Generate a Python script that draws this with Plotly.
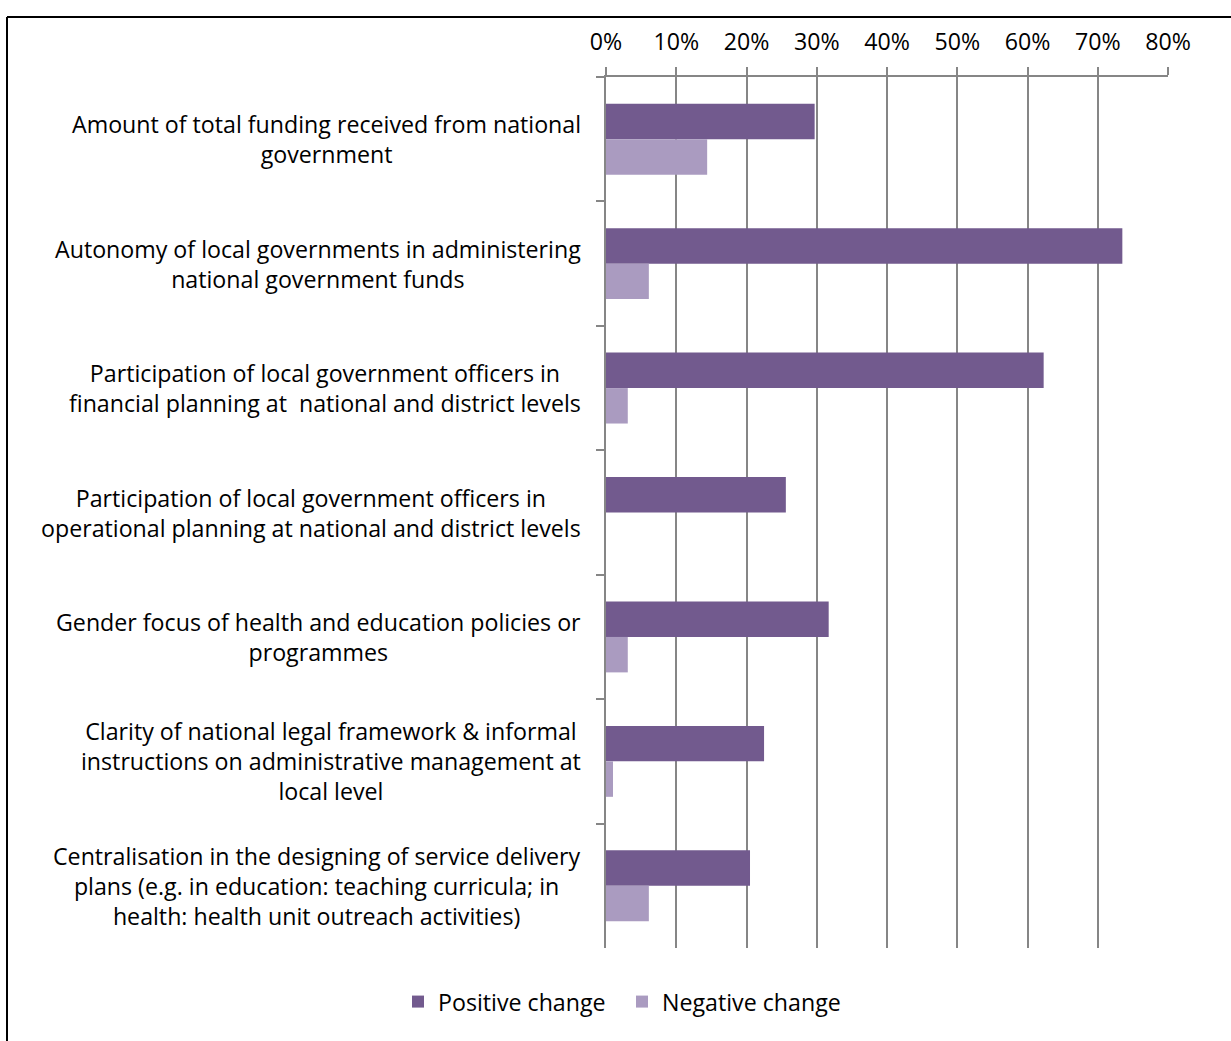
import plotly.graph_objects as go

categories = [
    "Amount of total funding received from national<br>government",
    "Autonomy of local governments in administering<br>national government funds",
    "Participation of local government officers in<br>financial planning at  national and district levels",
    "Participation of local government officers in<br>operational planning at national and district levels",
    "Gender focus of health and education policies or<br>programmes",
    "Clarity of national legal framework & informal<br>instructions on administrative management at<br>local level",
    "Centralisation in the designing of service delivery<br>plans (e.g. in education: teaching curricula; in<br>health: health unit outreach activities)",
]
cat_ids = ["c1", "c2", "c3", "c4", "c5", "c6", "c7"]
positive = [0.297, 0.735, 0.623, 0.256, 0.317, 0.225, 0.205]
negative = [0.144, 0.061, 0.031, 0.0, 0.031, 0.010, 0.061]
x_ticks = [0, 0.1, 0.2, 0.3, 0.4, 0.5, 0.6, 0.7, 0.8]
x_ticklabels = ["0%", "10%", "20%", "30%", "40%", "50%", "60%", "70%", "80%"]

FONT = "Open Sans"
FS = 23.2
W, H = 1231, 1041
ML, MR, MT, MB = 606, 63, 77, 93
PW, PH = W - ML - MR, H - MT - MB

fig = go.Figure()
fig.add_trace(go.Bar(
    y=cat_ids, x=positive, orientation="h", name="Positive change",
    marker=dict(color="#725A8E", line=dict(width=0)),
))
fig.add_trace(go.Bar(
    y=cat_ids, x=negative, orientation="h", name="Negative change",
    marker=dict(color="#AA9BC0", line=dict(width=0)),
))

annotations = []
for cid, lab in zip(cat_ids, categories):
    annotations.append(dict(
        x=(583 - ML) / PW, xref="paper", y=cid, yref="y",
        text=lab, showarrow=False, xanchor="right", yanchor="middle",
        align="center", font=dict(family=FONT, size=FS, color="#000000"),
    ))

shapes = [
    dict(type="line", xref="paper", yref="paper",
         x0=(7 - ML) / PW, x1=(1240 - ML) / PW,
         y0=(H - MB - 17) / PH, y1=(H - MB - 17) / PH,
         line=dict(color="#000000", width=2)),
    dict(type="line", xref="paper", yref="paper",
         x0=(7 - ML) / PW, x1=(7 - ML) / PW,
         y0=(H - MB - 17) / PH, y1=(H - MB - 1050) / PH,
         line=dict(color="#000000", width=2)),
]

fig.update_layout(
    width=W, height=H,
    margin=dict(l=ML, r=MR, t=MT, b=MB),
    paper_bgcolor="white", plot_bgcolor="white",
    barmode="group", bargap=0.43, bargroupgap=0,
    font=dict(family=FONT, size=FS, color="#000000"),
    showlegend=True,
    legend=dict(orientation="h", x=(398 - ML) / PW, xanchor="left",
                y=-(1002 - (H - MB)) / PH, yanchor="middle",
                font=dict(family=FONT, size=FS), itemwidth=30,
                entrywidth=179, traceorder="normal"),
    annotations=annotations,
    shapes=shapes,
)
fig.update_xaxes(
    side="top", range=[0, 0.8], tickvals=x_ticks, ticktext=x_ticklabels,
    showgrid=True, gridcolor="#868686", gridwidth=2,
    showline=True, linecolor="#868686", linewidth=2,
    ticks="outside", ticklen=8, tickcolor="#868686", tickwidth=2,
    ticklabelstandoff=8,
    zeroline=False, tickfont=dict(family=FONT, size=FS),
)
fig.update_yaxes(
    categoryorder="array", categoryarray=cat_ids, autorange="reversed",
    showticklabels=False, showline=True, linecolor="#868686", linewidth=2,
    ticks="outside", ticklen=8, tickcolor="#868686", tickwidth=2,
    tickson="boundaries", showgrid=False, zeroline=False,
)

fig.write_html("out.html")
